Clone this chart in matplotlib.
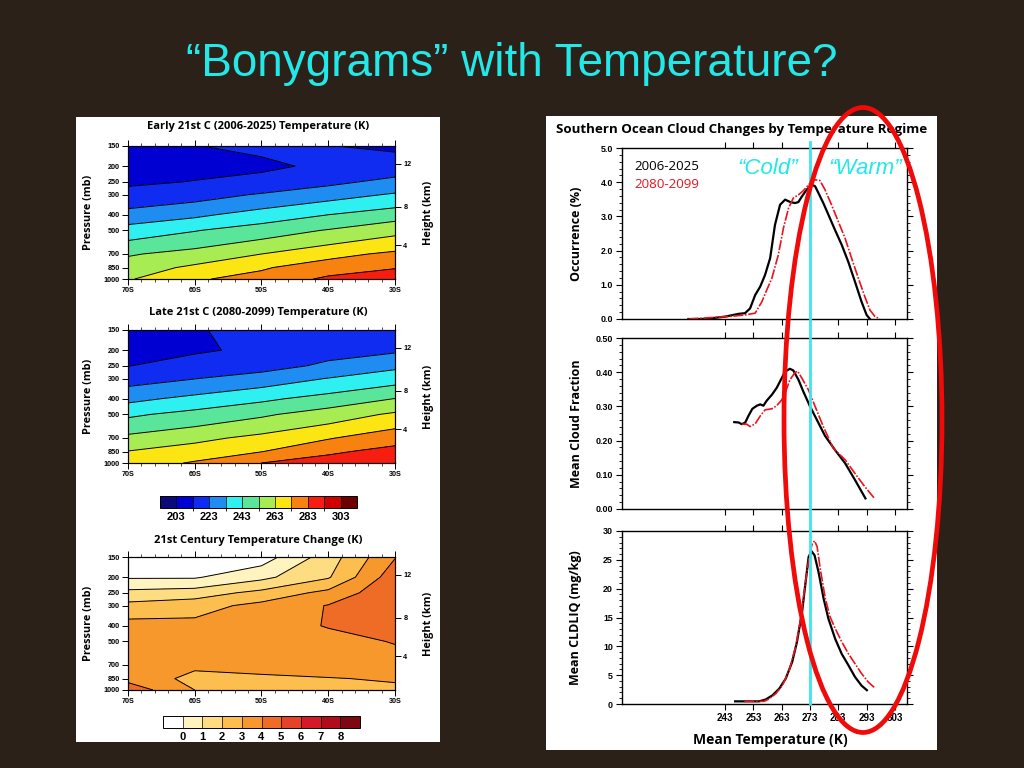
import numpy as np
import matplotlib
matplotlib.use('Agg')
import matplotlib.pyplot as plt
from matplotlib.colors import ListedColormap, BoundaryNorm
from matplotlib.patches import Rectangle, Ellipse
from matplotlib.lines import Line2D
import matplotlib.transforms as mtrans
from matplotlib.ticker import MultipleLocator, FixedLocator, NullLocator, FormatStrFormatter

# ---------------- data ----------------
lat_pts = [-70, -60, -50, -40, -30]
p_levels = [1000, 850, 700, 500, 400, 300, 250, 200, 150]

# rows: pressure levels (1000 -> 150), cols: 70S .. 30S
t_early = [
    [262.0, 272.0, 276.0, 285.0, 288.0],
    [258.0, 265.0, 272.0, 278.0, 282.5],
    [252.0, 256.6, 263.0, 270.0, 275.0],
    [237.3, 242.5, 247.9, 253.7, 260.0],
    [226.5, 231.0, 237.3, 243.0, 248.5],
    [216.0, 219.0, 223.9, 229.0, 234.0],
    [211.5, 213.3, 215.5, 220.5, 225.9],
    [209.5, 210.5, 211.5, 214.5, 217.0],
    [211.5, 212.8, 214.5, 213.2, 211.5],
]
t_late = [
    [268.0, 274.0, 283.0, 287.0, 291.0],
    [263.4, 267.9, 272.8, 281.5, 286.0],
    [255.5, 260.3, 265.8, 272.2, 279.4],
    [241.3, 246.3, 251.5, 257.7, 264.6],
    [230.3, 235.8, 241.0, 246.8, 253.2],
    [219.0, 222.8, 227.5, 233.4, 238.8],
    [212.8, 216.4, 219.0, 224.9, 230.7],
    [211.0, 212.0, 214.5, 219.5, 221.5],
    [210.0, 212.8, 213.8, 216.0, 216.0],
]
t_change = [
    [4.6, 3.0, 2.6, 2.7, 2.8],
    [3.7, 2.7, 2.8, 2.95, 3.1],
    [3.7, 3.2, 3.4, 3.5, 3.6],
    [3.6, 3.5, 3.7, 3.7, 4.05],
    [3.4, 3.3, 3.6, 4.05, 4.6],
    [2.3, 2.6, 3.3, 4.05, 4.9],
    [1.3, 1.5, 2.3, 3.3, 4.8],
    [-0.1, -0.1, 0.75, 1.9, 4.6],
    [-1.0, -0.8, -0.5, 1.5, 3.95],
]
temp_levels = [203, 213, 223, 233, 243, 253, 263, 273, 283, 293, 303]
temp_colors = ['#0a0a78', '#0000d2', '#0f2cf0', '#1e8cf0', '#2ef0f0', '#5ae69a',
               '#a6ec52', '#fbe614', '#f8820f', '#f61e10', '#d00000', '#6e0000']
chg_levels = [0, 1, 2, 3, 4, 5, 6, 7, 8]
chg_colors = ['#ffffff', '#fff3c0', '#fedd82', '#fdbe50', '#f7982c', '#ef6c27',
              '#e6422a', '#d41a26', '#b00c1c', '#7e0812']
p_ticks = [150, 200, 250, 300, 400, 500, 700, 850, 1000]
lat_ticks = [-70, -60, -50, -40, -30]
lat_labels = ['70S', '60S', '50S', '40S', '30S']
height_ticks_km = [4, 8, 12]

# right panel curves
occ_temp_early = [230.0, 236.0, 243.0, 247.7, 250.0, 251.8, 253.6, 255.4, 257.1, 258.9, 260.6,
                  262.4, 264.2, 266.0, 267.7, 268.9, 270.1, 271.8, 273.6, 274.8, 276.0, 277.7,
                  279.5, 281.8, 284.2, 286.5, 288.9, 291.2, 293.0, 294.2]
occ_early = [0.0, 0.0, 0.07, 0.15, 0.17, 0.31, 0.70, 0.95, 1.29, 1.78, 2.75, 3.34, 3.49, 3.42,
             3.39, 3.42, 3.58, 3.78, 3.93, 3.88, 3.68, 3.39, 3.05, 2.61, 2.17, 1.68, 1.09, 0.51,
             0.12, 0.0]
occ_temp_late = [230.0, 245.4, 250.0, 253.6, 256.0, 257.7, 259.5, 261.8, 263.6, 265.4, 267.1,
                 268.9, 270.6, 273.0, 274.8, 276.5, 278.3, 280.6, 283.0, 285.4, 287.7, 290.1,
                 292.4, 294.2, 296.0, 297.7]
occ_late = [0.0, 0.08, 0.12, 0.17, 0.51, 0.85, 1.19, 1.88, 2.66, 3.24, 3.54, 3.63, 3.75, 3.97,
            4.07, 4.05, 3.78, 3.34, 2.85, 2.36, 1.78, 1.19, 0.65, 0.26, 0.07, 0.0]

cf_temp_early = [246.2, 247.7, 248.9, 250.1, 251.2, 252.6, 254.2, 255.4, 256.5, 257.7, 259.5,
                 261.2, 263.0, 264.2, 265.9, 267.1, 268.9, 270.6, 273.0, 275.4, 278.3, 281.8,
                 285.4, 288.9, 292.6]
cf_early = [0.254, 0.253, 0.248, 0.253, 0.272, 0.293, 0.302, 0.306, 0.302, 0.317, 0.334, 0.354,
            0.383, 0.402, 0.410, 0.405, 0.378, 0.344, 0.300, 0.261, 0.214, 0.173, 0.134, 0.085,
            0.031]
cf_temp_late = [248.9, 250.6, 251.8, 253.6, 255.4, 257.1, 259.5, 261.2, 263.0, 264.4, 265.9,
                267.7, 268.6, 270.1, 272.4, 274.8, 277.7, 281.2, 285.4, 288.9, 292.4, 295.6]
cf_late = [0.248, 0.248, 0.241, 0.249, 0.272, 0.290, 0.293, 0.302, 0.319, 0.344, 0.378, 0.399,
           0.403, 0.383, 0.349, 0.300, 0.241, 0.178, 0.144, 0.104, 0.065, 0.033]

lq_temp_early = [246.5, 250.4, 255.0, 257.4, 259.7, 262.1, 264.4, 266.7, 268.4, 270.2, 271.6,
                 272.5, 273.5, 274.6, 276.0, 277.8, 279.5, 281.9, 284.2, 286.6, 288.9, 291.2,
                 293.1]
lq_early = [0.46, 0.46, 0.46, 0.8, 1.5, 2.66, 4.4, 7.3, 10.8, 16.0, 21.8, 25.5, 26.5, 25.8,
            22.9, 18.3, 14.8, 11.3, 8.7, 6.7, 4.7, 3.2, 2.4]
lq_temp_late = [249.8, 256.8, 258.6, 260.9, 263.2, 265.6, 267.9, 269.7, 271.4, 272.8, 273.7,
                274.6, 275.5, 276.6, 278.4, 280.1, 281.9, 284.2, 286.6, 288.9, 291.2, 293.6,
                295.9]
lq_late = [0.46, 0.46, 0.9, 1.8, 3.2, 5.8, 9.9, 14.8, 21.2, 25.8, 27.7, 28.3, 27.3, 23.5, 18.3,
           15.1, 13.1, 10.8, 8.7, 7.0, 5.3, 3.8, 2.8]

temp_ticks = [243, 253, 263, 273, 283, 293, 303]
freezing_T = 273

# ---------------- figure ----------------
W, H = 1024, 768
fig = plt.figure(figsize=(10.24, 7.68), dpi=100)
BG = '#2b2118'
fig.patch.set_facecolor(BG)
CYAN = '#22e8e8'
RED = '#e8141e'
TF = 'Liberation Sans'
LF = 'Open Sans'


def box(l, t, r, b):
    return [l / W, 1 - b / H, (r - l) / W, (b - t) / H]


def ftext(x, y, s, **kw):
    return fig.text(x / W, 1 - y / H, s, **kw)


# white panels
for (l, t, r, b) in [(76, 117, 440, 742), (546, 116, 937, 750)]:
    fig.add_artist(Rectangle((l / W, 1 - b / H), (r - l) / W, (b - t) / H,
                             transform=fig.transFigure, fc='white', ec='none', zorder=-5))

ftext(512, 76, '\u201cBonygrams\u201d with Temperature?', ha='center', va='baseline',
      color=CYAN, fontsize=33, family=TF)


def p_of_z(zkm):
    z = np.asarray(zkm, dtype=float) * 1000.0
    p = np.where(z <= 11000, 1013.25 * (1 - 2.25577e-5 * z) ** 5.25588,
                 226.32 * np.exp(-(z - 11000) / 6341.6))
    return p


def contour_panel(rect, field, levels, colors, title, title_y):
    ax = fig.add_axes(box(*rect))
    cmap = ListedColormap(colors)
    norm = BoundaryNorm(levels, ncolors=len(colors), extend='both')
    LAT, P = np.meshgrid(lat_pts, p_levels)
    F = np.array(field)
    cf = ax.contourf(LAT, P, F, levels=levels, cmap=cmap, norm=norm, extend='both')
    cs = ax.contour(LAT, P, F, levels=levels, colors='black', linewidths=0.7)
    cs.set_zorder(4)
    ax.set_yscale('log')
    ax.set_ylim(1000, 150)
    ax.set_xlim(-70, -30)
    ax.yaxis.set_major_locator(FixedLocator(p_ticks))
    ax.yaxis.set_minor_locator(NullLocator())
    ax.set_yticklabels([str(p) for p in p_ticks])
    ax.set_xticks(lat_ticks)
    ax.set_xticklabels(lat_labels)
    ax.xaxis.set_minor_locator(MultipleLocator(2))
    ax.tick_params(axis='both', which='major', direction='out', length=4, width=0.7,
                   labelsize=5.2, pad=2, top=True)
    ax.tick_params(axis='x', which='minor', direction='out', length=2, width=0.5, top=True)
    for lab in ax.get_xticklabels() + ax.get_yticklabels():
        lab.set_fontweight('bold'); lab.set_family(TF)
    for s in ax.spines.values():
        s.set_linewidth(0.8)
    ax2 = ax.twinx()
    ax2.set_yscale('log')
    ax2.set_ylim(1000, 150)
    ax2.yaxis.set_major_locator(FixedLocator(p_of_z(height_ticks_km)))
    ax2.yaxis.set_minor_locator(NullLocator())
    ax2.set_yticklabels([str(z) for z in height_ticks_km])
    ax2.tick_params(axis='y', direction='out', length=4, width=0.7, labelsize=5.2, pad=2)
    for lab in ax2.get_yticklabels():
        lab.set_fontweight('bold'); lab.set_family(TF)
    l, t, r, b = rect
    ftext((l + r) / 2 - 3, title_y, title, ha='center', va='center', fontsize=8,
          fontweight='bold', family=LF)
    ftext(89, (t + b) / 2, 'Pressure (mb)', rotation=90, ha='center', va='center',
          fontsize=7.8, fontweight='bold', family=LF)
    ftext(428, (t + b) / 2, 'Height (km)', rotation=90, ha='center', va='center',
          fontsize=7.8, fontweight='bold', family=LF)
    return cf


def colorbar_panel(cf, rect, ticks, extendfrac):
    cax = fig.add_axes(box(*rect))
    cb = fig.colorbar(cf, cax=cax, orientation='horizontal', extend='both', extendrect=True,
                      extendfrac=extendfrac, drawedges=True, ticks=ticks)
    cb.outline.set_linewidth(0.7)
    cb.dividers.set_linewidth(0.5)
    cb.ax.tick_params(length=0, labelsize=8, pad=3)
    for lab in cb.ax.get_xticklabels():
        lab.set_fontweight('bold'); lab.set_family(TF)
    return cb


cf1 = contour_panel((128, 146, 395, 279), t_early, temp_levels, temp_colors,
                    'Early 21st C (2006-2025) Temperature (K)', 127)
cf2 = contour_panel((128, 330, 395, 463), t_late, temp_levels, temp_colors,
                    'Late 21st C (2080-2099) Temperature (K)', 313)
colorbar_panel(cf2, (160, 496, 357, 508), temp_levels[::2], 0.1)
cf3 = contour_panel((128, 557, 395, 690), t_change, chg_levels, chg_colors,
                    '21st Century Temperature Change (K)', 540)
colorbar_panel(cf3, (163, 716, 360, 728), chg_levels, 0.125)

# ---------------- right panel ----------------
XL = (206.5, 307.3)


def line_panel(rect, xe, ye, xl, yl, ylim, major, minor, fmt, ylabel, ylab_x, show_x):
    ax = fig.add_axes(box(*rect))
    ax.plot(xe, ye, color='black', lw=1.6, zorder=3)
    ax.plot(xl, yl, color=RED, lw=1.2, ls=(0, (6, 1, 1, 1)), zorder=3)
    ax.set_xlim(*XL)
    ax.set_ylim(*ylim)
    ax.set_xticks(temp_ticks)
    ax.yaxis.set_major_locator(MultipleLocator(major))
    ax.yaxis.set_minor_locator(MultipleLocator(minor))
    ax.yaxis.set_major_formatter(FormatStrFormatter(fmt))
    ax.tick_params(axis='both', which='major', direction='out', length=4.5, width=0.8,
                   labelsize=6.4, pad=2, top=True, right=True)
    ax.tick_params(axis='y', which='minor', direction='out', length=2.2, width=0.6,
                   left=True, right=True)
    if not show_x:
        ax.tick_params(axis='x', labelbottom=False)
    else:
        ax.tick_params(axis='x', labelsize=7)
    for lab in ax.get_xticklabels() + ax.get_yticklabels():
        lab.set_fontweight('bold'); lab.set_family(TF)
    for s in ax.spines.values():
        s.set_linewidth(1.0)
    l, t, r, b = rect
    ftext(ylab_x, (t + b) / 2, ylabel, rotation=90, ha='center', va='center', fontsize=9,
          fontweight='bold', family=LF)
    return ax


axA = line_panel((622, 148, 907, 319), occ_temp_early, occ_early, occ_temp_late, occ_late,
                 (0, 5), 1.0, 0.2, '%.1f', 'Occurrence (%)', 577, False)
axB = line_panel((622, 338, 907, 509), cf_temp_early, cf_early, cf_temp_late, cf_late,
                 (0, 0.5), 0.1, 0.02, '%.2f', 'Mean Cloud Fraction', 577, False)
axC = line_panel((622, 531, 907, 704), lq_temp_early, lq_early, lq_temp_late, lq_late,
                 (0, 30), 5, 1, '%d', 'Mean CLDLIQ (mg/kg)', 575, True)

ftext(770, 740, 'Mean Temperature (K)', ha='center', va='center', fontsize=10,
      fontweight='bold', family=LF)
ftext(742, 130, 'Southern Ocean Cloud Changes by Temperature Regime', ha='center',
      va='center', fontsize=9.6, fontweight='bold', family=LF)
ftext(634, 167, '2006-2025', ha='left', va='center', fontsize=9.6, color='black', family=LF)
ftext(634, 185, '2080-2099', ha='left', va='center', fontsize=9.6, color=RED, family=LF)
ftext(768, 168, '\u201cCold\u201d', ha='center', va='center', fontsize=16, color=CYAN,
      style='italic', family=TF)
ftext(865, 168, '\u201cWarm\u201d', ha='center', va='center', fontsize=16, color=CYAN,
      style='italic', family=TF)

# cyan freezing line across all three plots
trans = mtrans.blended_transform_factory(axC.transData, fig.transFigure)
fig.add_artist(Line2D([freezing_T, freezing_T], [1 - 704 / H, 1 - 142 / H], transform=trans,
                      color='#3ce6ea', lw=2.0, zorder=6))

# red annotation ellipse
fig.add_artist(Ellipse((863 / W, 1 - 420 / H), 158 / W, 625 / H, transform=fig.transFigure,
                       fill=False, ec='#f00a0a', lw=3.4, zorder=10))

fig.savefig('out.png', dpi=100, facecolor=BG)
